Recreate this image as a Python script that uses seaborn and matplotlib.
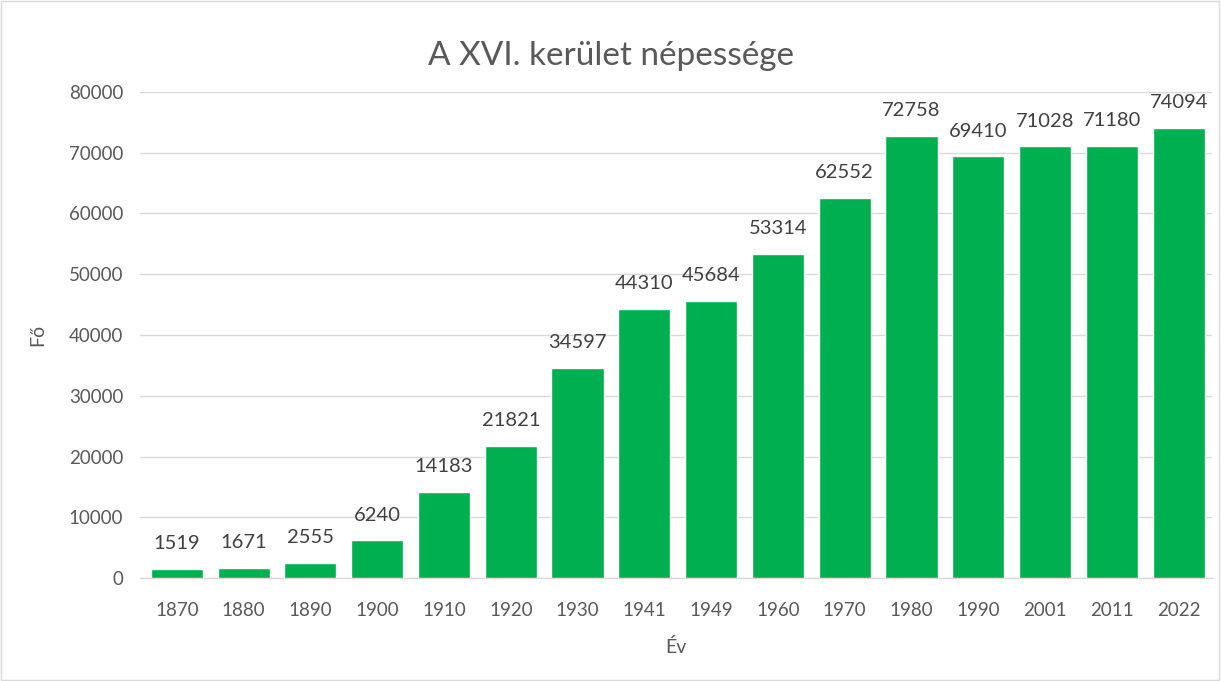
import matplotlib
matplotlib.use("Agg")
import matplotlib.pyplot as plt
import seaborn as sns
import pandas as pd

years = ["1870", "1880", "1890", "1900", "1910", "1920", "1930", "1941",
         "1949", "1960", "1970", "1980", "1990", "2001", "2011", "2022"]
population = [1519, 1671, 2555, 6240, 14183, 21821, 34597, 44310,
              45684, 53314, 62552, 72758, 69410, 71028, 71180, 74094]
title = "A XVI. kerület népessége"
xlabel = "Év"
ylabel = "Fő"

sns.set_theme(style="white")
plt.rcParams['font.family'] = ['Lato', 'DejaVu Sans']
text_color = "#595959"

df = pd.DataFrame({"year": years, "pop": population})

fig = plt.figure(figsize=(12.21, 6.81), dpi=100)
ax = fig.add_axes([0.1147, 0.151, 0.878, 0.714])

sns.barplot(data=df, x="year", y="pop", color="#00B050", saturation=1,
            width=0.78, ax=ax, zorder=3)

ax.set_ylim(0, 80000)
ax.set_xlim(-0.55, 15.5)
ax.set_yticks(range(0, 80001, 10000))
ax.yaxis.grid(True, color="#D9D9D9", linewidth=1, zorder=0)
ax.xaxis.grid(False)
for s in ["top", "right", "left"]:
    ax.spines[s].set_visible(False)
ax.spines["bottom"].set_color("#D9D9D9")
ax.spines["bottom"].set_linewidth(1)
ax.tick_params(axis="both", length=0, labelsize=13.5, labelcolor=text_color)
ax.tick_params(axis="x", pad=17)
ax.tick_params(axis="y", pad=12)

for container in ax.containers:
    ax.bar_label(container, labels=[str(v) for v in population], padding=12,
                 fontsize=14.5, color="#404040")

ax.set_xlabel(xlabel, fontsize=14, color=text_color, labelpad=14)
ax.set_ylabel(ylabel, fontsize=14, color=text_color, labelpad=16)
fig.suptitle(title, y=0.94, fontsize=24, color=text_color)

# outer chart border
fig.patches.append(plt.Rectangle((0.001, 0.001), 0.997, 0.997, transform=fig.transFigure,
                                 fill=False, edgecolor="#D9D9D9", linewidth=1))

fig.savefig("out.png", dpi=100)
